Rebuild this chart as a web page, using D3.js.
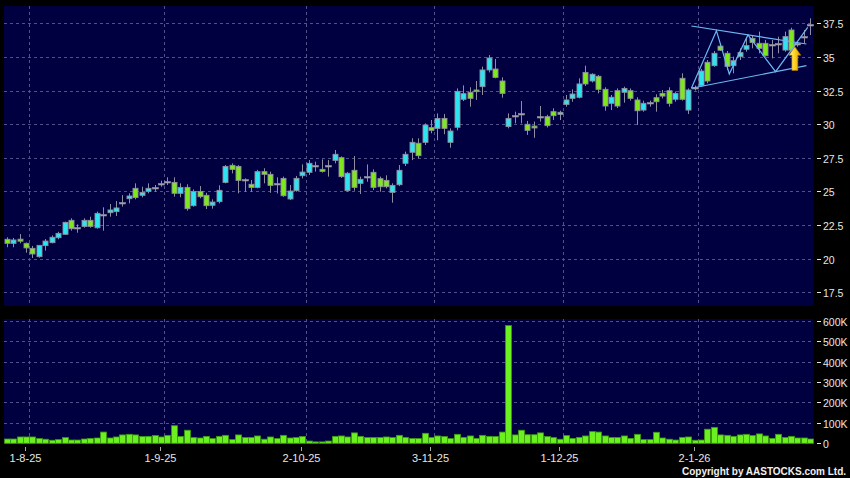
<!DOCTYPE html>
<html><head><meta charset="utf-8">
<script src="https://cdn.jsdelivr.net/npm/d3@7/dist/d3.min.js"></script>
<style>html,body{margin:0;padding:0;background:#000;}svg{display:block;}</style>
</head><body><svg id="c" width="850" height="478"></svg>
<script>
// ---- data ----
const openP = [21.44,21.14,21.45,21.14,20.77,20.15,20.97,21.19,21.56,21.81,22.85,22.30,22.40,22.85,22.30,23.33,23.42,23.50,24.11,24.46,25.23,24.71,25.00,25.23,25.55,25.70,25.67,24.86,25.30,23.94,25.00,24.71,23.97,24.24,25.67,26.94,26.86,25.82,25.53,25.30,26.47,26.27,25.55,25.97,24.44,25.06,26.17,26.42,26.91,26.64,26.91,27.31,27.51,25.06,26.57,25.60,26.10,26.42,25.95,25.82,24.93,25.50,27.09,27.91,28.58,28.65,29.74,29.69,30.43,28.65,29.77,31.85,32.37,32.54,32.79,34.03,34.10,33.21,29.82,30.63,30.73,29.99,29.86,30.56,30.56,30.93,30.73,31.47,31.92,32.00,33.85,33.21,33.56,32.59,31.55,32.49,32.37,32.49,31.80,31.05,31.55,31.97,32.29,32.49,31.85,33.41,31.05,32.67,32.86,34.60,34.35,35.80,35.27,34.35,35.02,35.57,36.38,36.01,36.01,35.89,35.94,35.51,37.00,35.94,36.50,37.37];
const highP = [21.59,21.54,21.83,21.20,20.95,21.00,21.46,21.73,22.00,22.75,23.00,22.55,23.00,23.12,23.50,23.82,24.07,24.29,24.73,24.86,25.60,25.35,25.60,25.48,25.80,26.05,26.05,25.60,25.53,25.15,25.40,24.90,24.41,25.45,26.96,27.09,26.96,25.97,25.85,26.60,26.72,26.47,26.05,26.10,25.48,26.15,27.01,27.33,27.21,27.38,27.33,28.08,27.60,26.45,27.63,26.10,27.01,26.64,26.10,26.20,25.60,26.96,27.96,28.95,28.95,30.06,30.31,30.80,30.76,29.69,32.66,32.89,32.74,33.21,34.28,35.14,34.85,33.48,30.80,30.93,31.72,30.24,30.19,31.35,30.70,31.18,31.00,32.17,32.59,33.41,34.35,33.78,33.66,32.74,32.17,32.66,32.79,32.66,32.00,31.75,31.75,32.22,32.54,32.74,32.42,33.78,32.66,32.87,34.10,34.77,35.44,36.00,35.44,35.02,35.64,36.38,36.63,36.88,36.26,36.26,36.51,36.88,37.17,36.13,37.00,37.87];
const lowP = [20.85,20.85,21.14,20.45,20.05,20.08,20.60,21.14,21.44,21.76,22.08,21.93,22.30,22.30,22.23,22.08,23.12,23.17,23.87,24.11,24.41,24.56,24.86,24.98,25.35,25.48,24.61,24.56,23.57,23.87,24.49,23.69,23.72,24.11,25.60,26.34,24.86,24.98,24.98,25.23,25.60,24.90,24.85,24.60,24.36,24.98,25.97,26.22,26.47,26.40,26.10,27.09,26.00,24.98,25.06,24.81,25.72,25.10,24.98,25.23,24.16,25.40,26.89,27.33,27.46,28.45,29.32,28.80,29.25,28.25,29.54,31.72,31.30,31.80,32.17,33.85,33.41,31.97,29.69,30.06,30.06,29.20,28.99,30.19,29.75,30.31,30.31,31.30,31.67,31.92,32.84,33.10,32.29,31.00,31.05,31.20,31.60,31.75,29.94,30.93,31.30,30.93,31.92,31.30,31.67,31.75,30.76,32.50,32.79,33.04,34.27,35.44,34.03,33.78,34.77,35.39,35.64,35.27,35.02,34.89,35.27,35.39,35.39,35.76,36.01,36.63];
const closeP = [21.14,21.39,21.30,20.80,20.35,20.99,21.31,21.59,21.88,22.70,22.23,22.30,22.85,22.40,23.37,23.27,23.62,23.77,24.11,24.66,24.54,24.93,25.23,25.23,25.52,25.70,24.86,25.30,23.72,25.00,24.61,23.94,24.21,25.08,26.86,26.64,25.82,25.82,25.30,26.47,26.27,25.45,25.55,24.68,25.03,25.97,26.44,27.09,26.91,26.49,26.91,27.76,26.10,26.35,25.30,25.90,26.10,25.30,25.35,25.35,25.45,26.57,27.76,28.65,27.66,29.94,29.54,30.43,29.69,29.49,32.44,32.27,31.92,32.42,34.03,34.92,33.48,32.29,30.43,30.63,30.73,29.54,29.72,30.56,29.89,30.63,30.88,31.80,32.24,32.99,32.99,33.71,32.59,31.35,32.00,31.35,32.66,31.92,31.00,31.55,31.55,31.67,32.09,31.55,32.29,31.85,32.54,32.67,33.95,33.21,35.27,35.50,34.30,34.72,35.32,35.84,36.08,35.64,35.09,35.89,35.94,36.51,35.51,35.94,36.45,37.37];
const volumeK = [21,21,31,31,31,23,20,15,18,28,16,16,21,24,26,55,26,31,41,44,41,33,34,38,31,39,86,33,64,28,26,34,23,34,39,18,41,28,28,36,20,31,23,39,26,28,33,11,7,7,11,34,36,31,51,34,28,28,28,31,28,39,29,23,23,49,28,36,33,23,44,29,36,24,39,34,33,55,576,41,64,42,42,51,33,28,20,38,24,29,36,57,55,36,28,28,36,24,44,18,18,54,26,20,16,29,31,15,16,69,78,41,39,34,41,44,38,46,36,24,44,28,34,26,26,21];
const tickIndex = [3,24,46,66,86,107];
const tickLabels = ["1-8-25","1-9-25","2-10-25","3-11-25","1-12-25","2-1-26"];
const priceTicks = [17.5,20,22.5,25,27.5,30,32.5,35,37.5];
const volTicks = [0,100,200,300,400,500,600];
// chart pattern annotation (index, price)
const patUpper = [[106.5,37.30],[124.4,35.96]];
const patLower = [[106.5,32.67],[124.4,34.35]];
const patZig = [[106.5,32.67],[110.4,36.95],[112.4,33.73],[115.3,36.63],[119.6,33.90],[124.6,37.2]];
const arrowAt = {i:122.6, tip:35.76, base:34.0};

// ---- layout ----
const svg = d3.select("#c");
const L = 4, R = 813.5;
const P = {top:6, bottom:306};
const V = {top:319, bottom:444};
const n = openP.length;
const idx = d3.range(n);
const x = d3.scaleBand().domain(idx).range([3.5, 813.5]);
const bw = x.bandwidth();
const cx = i => x(i) + bw/2;
const xl = d3.scaleLinear().domain([-0.5, n-0.5]).range([3.5, 813.5]);
const y = d3.scaleLinear().domain([17.5,37.5]).range([292.3,23.3]);
const yv = d3.scaleLinear().domain([0,600]).range([443.3,320.7]);

const bg = "#000040", grid = "#50508a";
const upC = "#2ee4f0", dnC = "#7ee81c", edge = "#8e8e9e", dojiC = "#a8a8b0";

svg.append("rect").attr("width",850).attr("height",478).attr("fill","#000");
svg.append("rect").attr("x",L).attr("y",P.top).attr("width",R-L).attr("height",P.bottom-P.top).attr("fill",bg);
svg.append("rect").attr("x",L).attr("y",V.top).attr("width",R-L).attr("height",V.bottom-V.top).attr("fill",bg);

const g = svg.append("g");
// horizontal grid
g.selectAll(".hg").data(priceTicks).join("line")
  .attr("x1",L).attr("x2",R).attr("y1",d=>Math.round(y(d))+0.5).attr("y2",d=>Math.round(y(d))+0.5)
  .attr("stroke",grid).attr("stroke-dasharray","3,3");
g.selectAll(".hv").data(volTicks.filter(d=>d>0)).join("line")
  .attr("x1",L).attr("x2",R).attr("y1",d=>Math.round(yv(d))+0.5).attr("y2",d=>Math.round(yv(d))+0.5)
  .attr("stroke",grid).attr("stroke-dasharray","3,3");
// vertical grid
tickIndex.forEach(t=>{
  const gx = Math.round(x(t)+bw)+0.5;
  [[P.top,P.bottom],[V.top,V.bottom]].forEach(([a,b])=>{
    g.append("line").attr("x1",gx).attr("x2",gx).attr("y1",a).attr("y2",b)
     .attr("stroke",grid).attr("stroke-dasharray","3,3");
  });
});

// candles
const cg = svg.append("g");
idx.forEach(i=>{
  const o=openP[i], c=closeP[i], h=highP[i], l=lowP[i];
  const xc = Math.round(cx(i))+0.5;
  cg.append("line").attr("x1",xc).attr("x2",xc).attr("y1",y(h)).attr("y2",y(l))
    .attr("stroke",edge).attr("stroke-width",1);
  const diff = Math.abs(o-c);
  if (diff < 0.08) {
    const yy = Math.round(y(c));
    cg.append("rect").attr("x",xc-3).attr("y",yy-0.5).attr("width",6).attr("height",1.5)
      .attr("fill",dojiC).attr("stroke",edge).attr("stroke-width",0.6);
  } else {
    const top = y(Math.max(o,c)), bot = y(Math.min(o,c));
    cg.append("rect").attr("x",xc-2.5).attr("y",top).attr("width",5).attr("height",Math.max(1,bot-top))
      .attr("fill", c>o?upC:dnC).attr("stroke",edge).attr("stroke-width",0.9);
  }
});

// volume bars
svg.append("g").selectAll("rect").data(idx).join("rect")
  .attr("x",i=>Math.round(cx(i))-2.5).attr("width",6)
  .attr("y",i=>yv(volumeK[i])).attr("height",i=>yv(0)-yv(volumeK[i]))
  .attr("fill","#6cf020").attr("stroke","#3a9a10").attr("stroke-width",0.8);

// pattern
const line = d3.line().x(d=>xl(d[0])).y(d=>y(d[1]));
const pg = svg.append("g").attr("fill","none").attr("stroke","#6cb8f0").attr("stroke-width",1.2);
[patUpper,patLower,patZig].forEach(p=>pg.append("path").attr("d",line(p)));

// arrow
const defs = svg.append("defs");
const gr = defs.append("linearGradient").attr("id","ag").attr("x1","0").attr("x2","1").attr("y1","0").attr("y2","0");
gr.append("stop").attr("offset","0").attr("stop-color","#fff3a8");
gr.append("stop").attr("offset","0.5").attr("stop-color","#ffd21e");
gr.append("stop").attr("offset","1").attr("stop-color","#d99400");
const ax = xl(arrowAt.i), ty = y(arrowAt.tip), by = y(arrowAt.base), hy = ty+8.5;
svg.append("path")
  .attr("d",`M${ax},${ty} L${ax+6},${hy} L${ax+3},${hy} L${ax+3},${by} L${ax-3},${by} L${ax-3},${hy} L${ax-6},${hy} Z`)
  .attr("fill","url(#ag)").attr("stroke","#b07000").attr("stroke-width",0.6);

// right axes
const tc = "#e6e6e6";
const ra = svg.append("g").attr("font-family","'Liberation Sans',Arial,sans-serif").attr("font-size","10.5px").attr("fill",tc);
priceTicks.forEach(p=>{
  const yy = Math.round(y(p))+0.5;
  ra.append("line").attr("x1",817).attr("x2",821).attr("y1",yy).attr("y2",yy).attr("stroke",tc);
  ra.append("text").attr("x",823).attr("y",yy+4).text(p);
});
volTicks.forEach(v=>{
  const yy = Math.round(yv(v))+0.5;
  ra.append("line").attr("x1",817).attr("x2",821).attr("y1",yy).attr("y2",yy).attr("stroke",tc);
  ra.append("text").attr("x",823).attr("y",yy+4).text(v===0?"0":v+"K");
});

// x axis
const xa = svg.append("g").attr("font-family","'Liberation Sans',Arial,sans-serif").attr("font-size","11px").attr("fill",tc);
tickIndex.forEach((t,k)=>{
  const xx = Math.round(cx(t))-0.5;
  xa.append("line").attr("x1",xx).attr("x2",xx).attr("y1",447).attr("y2",451).attr("stroke","#aaa");
  xa.append("text").attr("x",xx).attr("y",462).attr("text-anchor","middle").text(tickLabels[k]);
});

svg.append("text").attr("x",682).attr("y",475).attr("font-family","'Liberation Sans',Arial,sans-serif")
  .attr("font-size","10px").attr("font-weight","bold").attr("fill","#f0f0f0")
  .attr("textLength",164).attr("lengthAdjust","spacing").text("Copyright by AASTOCKS.com Ltd.");
</script></body></html>
